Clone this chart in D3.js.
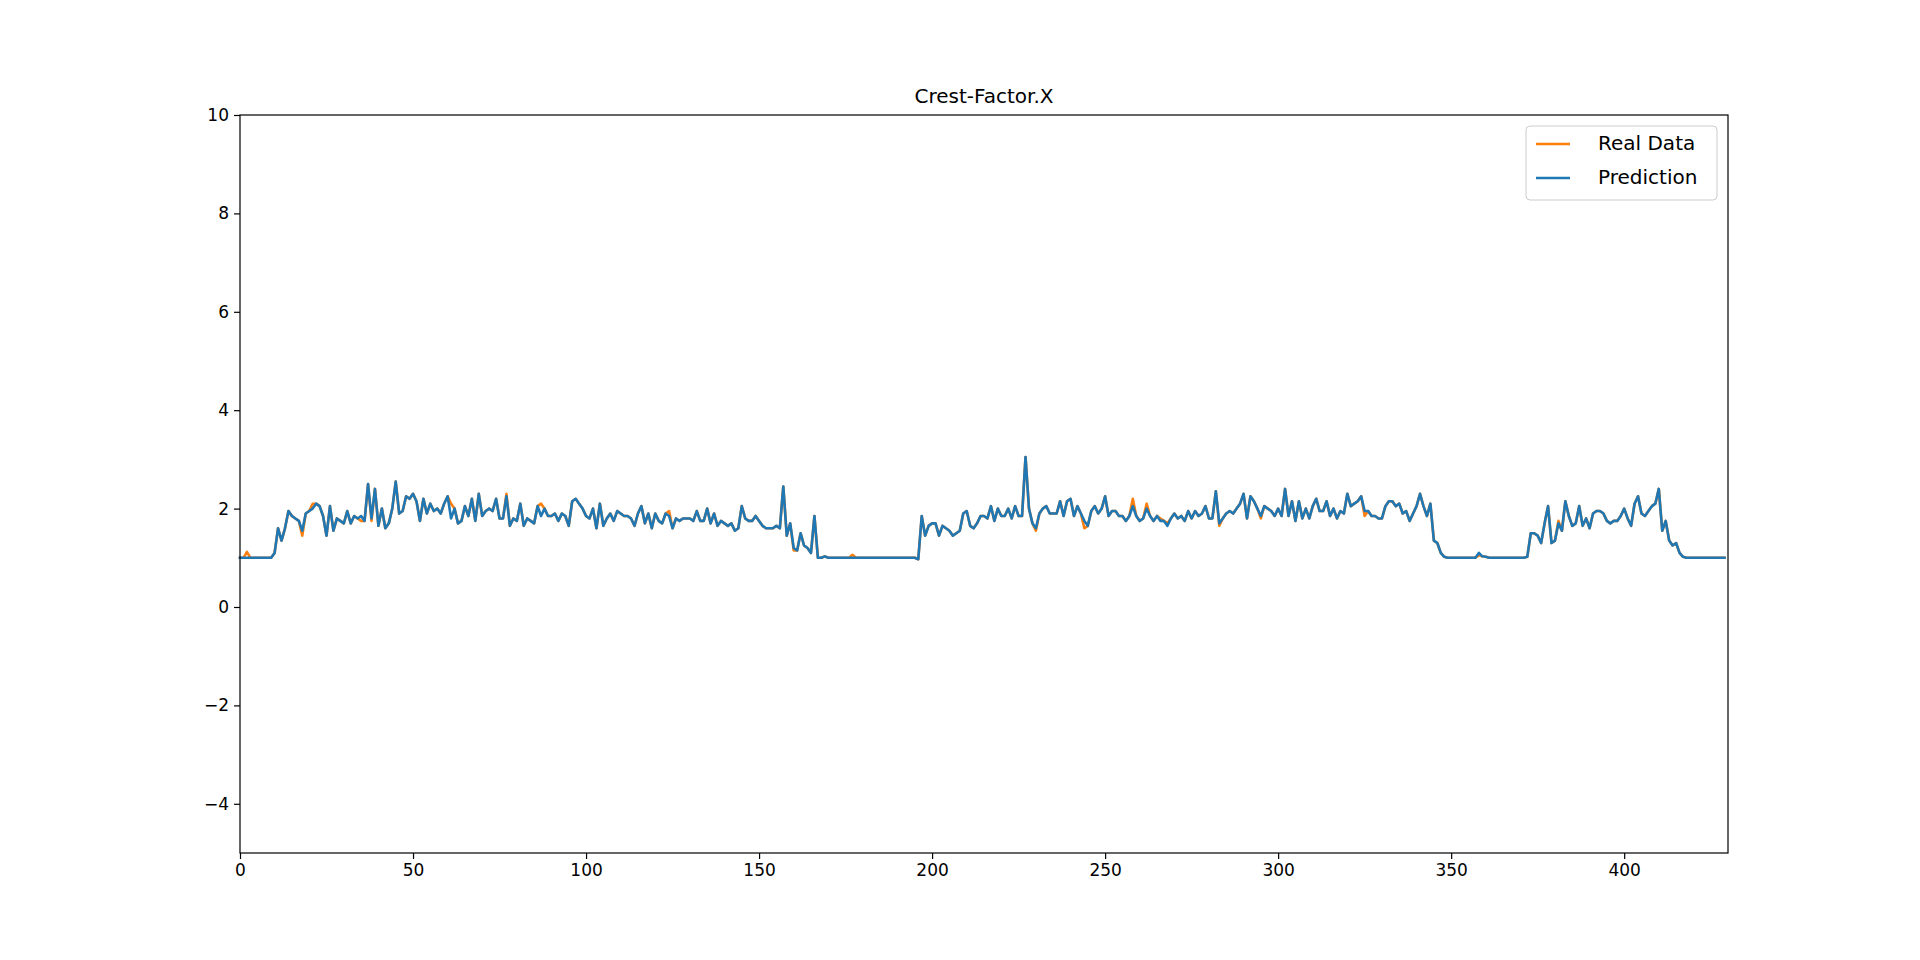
<!DOCTYPE html>
<html>
<head>
<meta charset="utf-8">
<script src="https://cdn.jsdelivr.net/npm/d3@7"></script>
<style>
  body { margin: 0; background: #fff; }
  text { font-family: "DejaVu Sans", sans-serif; }
</style>
</head>
<body>
<svg id="chart" width="1920" height="960"></svg>
<script>
// prediction values, one per sample
var prediction = [
 1.0,1.0,1.0,1.0,1.0,1.0,1.0,1.0,1.0,1.0,
 1.1,1.6,1.35,1.6,1.95,1.85,1.8,1.75,1.55,1.9,
 1.95,2.0,2.1,2.05,1.85,1.45,2.05,1.55,1.8,1.75,
 1.7,1.95,1.7,1.85,1.8,1.85,1.75,2.5,1.8,2.4,
 1.65,2.0,1.6,1.7,2.0,2.55,1.9,1.95,2.25,2.2,
 2.3,2.15,1.75,2.2,1.9,2.1,1.95,2.0,1.9,2.1,
 2.25,1.8,2.0,1.7,1.75,2.05,1.85,2.2,1.75,2.3,
 1.85,1.95,2.0,1.95,2.2,1.8,1.8,2.25,1.65,1.8,
 1.75,2.1,1.65,1.8,1.75,1.7,2.05,1.85,2.0,1.85,
 1.85,1.9,1.75,1.9,1.85,1.65,2.15,2.2,2.1,2.0,
 1.85,1.8,2.0,1.6,2.1,1.65,1.8,1.9,1.75,1.95,
 1.9,1.85,1.85,1.8,1.65,1.9,2.05,1.7,1.9,1.6,
 1.9,1.75,1.7,1.9,1.85,1.6,1.8,1.75,1.8,1.8,
 1.8,1.75,1.95,1.75,1.75,2.0,1.7,1.9,1.65,1.75,
 1.7,1.65,1.7,1.55,1.6,2.05,1.8,1.75,1.75,1.85,
 1.75,1.65,1.6,1.6,1.6,1.65,1.6,2.45,1.45,1.7,
 1.2,1.15,1.5,1.25,1.2,1.1,1.85,1.0,1.0,1.03,
 1.0,1.0,1.0,1.0,1.0,1.0,1.0,1.0,1.0,1.0,
 1.0,1.0,1.0,1.0,1.0,1.0,1.0,1.0,1.0,1.0,
 1.0,1.0,1.0,1.0,1.0,1.0,0.97,1.85,1.45,1.65,
 1.7,1.7,1.45,1.65,1.6,1.55,1.45,1.5,1.55,1.9,
 1.95,1.65,1.6,1.7,1.85,1.85,1.8,2.05,1.75,2.0,
 1.85,1.85,2.0,1.8,2.05,1.85,1.85,3.05,2.0,1.7,
 1.6,1.9,2.0,2.05,1.9,1.9,1.9,2.15,1.85,2.15,
 2.2,1.85,2.05,1.9,1.75,1.65,1.95,2.05,1.9,2.0,
 2.25,1.85,1.95,1.95,1.85,1.85,1.75,1.85,2.05,1.85,
 1.75,1.8,2.0,1.85,1.75,1.85,1.75,1.75,1.65,1.8,
 1.9,1.8,1.85,1.75,1.95,1.8,1.95,1.85,1.9,2.05,
 1.8,1.8,2.35,1.7,1.8,1.9,1.95,1.9,2.0,2.1,
 2.3,1.8,2.25,2.15,2.0,1.85,2.05,2.0,1.95,1.85,
 2.0,1.85,2.4,1.85,2.15,1.75,2.15,1.8,2.0,1.8,
 2.05,2.2,1.95,1.95,2.15,1.85,2.0,1.8,1.95,1.9,
 2.3,2.05,2.1,2.15,2.25,1.95,1.95,1.85,1.85,1.8,
 1.8,2.05,2.15,2.15,2.05,2.1,1.9,1.95,1.75,1.9,
 2.05,2.3,2.05,1.85,2.1,1.35,1.3,1.1,1.02,1.0,
 1.0,1.0,1.0,1.0,1.0,1.0,1.0,1.0,1.1,1.03,
 1.02,1.0,1.0,1.0,1.0,1.0,1.0,1.0,1.0,1.0,
 1.0,1.0,1.02,1.5,1.5,1.45,1.3,1.7,2.05,1.3,
 1.35,1.7,1.55,2.15,1.85,1.65,1.7,2.05,1.65,1.8,
 1.6,1.9,1.95,1.95,1.9,1.75,1.7,1.75,1.75,1.85,
 2.0,1.8,1.65,2.1,2.25,1.9,1.85,1.95,2.05,2.1,
 2.4,1.55,1.75,1.35,1.25,1.3,1.1,1.02,1.0,1.0,
 1.0,1.0,1.0,1.0,1.0,1.0,1.0,1.0,1.0,1.0
];
// samples where the real data differs from the prediction: [index, value]
var realDiffs = [
 [2,1.12],[18,1.45],[21,2.1],[35,1.75],[38,1.75],[61,2.1],[77,2.3],[87,2.1],
 [124,1.95],[160,1.15],[177,1.06],[230,1.55],[244,1.6],[258,2.2],[262,2.1],
 [266,1.8],[268,1.7],[283,1.65],[295,1.8],[325,1.85],[358,1.05],[381,1.75]
];
var realData = prediction.slice();
realDiffs.forEach(function (d) { realData[d[0]] = d[1]; });

var xTicks = [0, 50, 100, 150, 200, 250, 300, 350, 400];
var yTicks = [-4, -2, 0, 2, 4, 6, 8, 10];
var seriesNames = ["Real Data", "Prediction"];
var seriesColors = ["#ff7f0e", "#1f77b4"];

(function () {
  var mLeft = 240, mRight = 1728, mTop = 115, mBottom = 853;
  var svg = d3.select("#chart");
  var x = d3.scaleLinear().domain([0, 430]).range([mLeft, mRight]);
  var y = d3.scaleLinear().domain([-5, 10]).range([mBottom, mTop]);

  var line = d3.line().x(function (d, i) { return x(i); }).y(function (d) { return y(d); });

  [realData, prediction].forEach(function (s, k) {
    svg.append("path").attr("d", line(s)).attr("fill", "none")
      .attr("stroke", seriesColors[k]).attr("stroke-width", 2.6)
      .attr("stroke-linejoin", "round").attr("stroke-linecap", "square");
  });

  var xAxis = svg.append("g").attr("transform", "translate(0," + mBottom + ")")
    .call(d3.axisBottom(x).tickValues(xTicks).tickSize(6).tickPadding(5).tickFormat(d3.format("d")));
  var yAxis = svg.append("g").attr("transform", "translate(" + mLeft + ",0)")
    .call(d3.axisLeft(y).tickValues(yTicks).tickSize(6).tickPadding(5)
      .tickFormat(function (d) { return d < 0 ? "\u2212" + Math.abs(d) : d; }));
  [xAxis, yAxis].forEach(function (g) {
    g.select(".domain").remove();
    g.selectAll("text").style("font-size", "17px").attr("fill", "#000");
    g.selectAll("line").attr("stroke", "#000").attr("stroke-width", 1.2);
  });

  svg.append("rect").attr("x", mLeft).attr("y", mTop).attr("width", mRight - mLeft).attr("height", mBottom - mTop)
    .attr("fill", "none").attr("stroke", "#000").attr("stroke-width", 1.2);

  svg.append("text").attr("x", (mLeft + mRight) / 2).attr("y", mTop - 12)
    .attr("text-anchor", "middle").style("font-size", "20px").text("Crest-Factor.X");

  // legend
  var lg = svg.append("g").attr("transform", "translate(1526,126)");
  lg.append("rect").attr("width", 191).attr("height", 74).attr("rx", 4)
    .attr("fill", "#fff").attr("fill-opacity", 0.8).attr("stroke", "#ccc");
  seriesNames.forEach(function (n, i) {
    var yy = 18 + i * 34;
    lg.append("line").attr("x1", 10).attr("x2", 44).attr("y1", yy).attr("y2", yy)
      .attr("stroke", seriesColors[i]).attr("stroke-width", 2.6);
    lg.append("text").attr("x", 72).attr("y", yy + 6).style("font-size", "20px").text(n);
  });
})();
</script>
</body>
</html>
